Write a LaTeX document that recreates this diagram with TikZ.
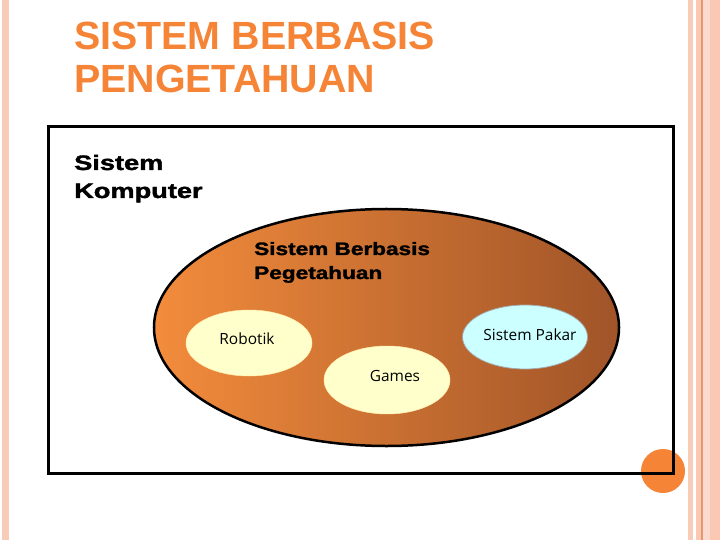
\documentclass[tikz,border=0pt]{standalone}
\usepackage{fontspec}
\setmainfont{Liberation Sans}
\newfontfamily\labfont{Open Sans}
\newfontfamily\heavyfont[FakeBold=1.6]{Liberation Sans Bold}
\usetikzlibrary{shapes.geometric}
\definecolor{orng}{RGB}{245,132,54}
\definecolor{stripeA}{RGB}{249,204,186}
\definecolor{stripeB}{RGB}{251,200,180}
\definecolor{stripeLine}{RGB}{232,150,110}
\definecolor{kbLeft}{RGB}{243,140,60}
\definecolor{kbRight}{RGB}{160,84,40}
\definecolor{paleYellow}{RGB}{255,255,204}
\definecolor{paleCyan}{RGB}{204,255,255}
\tikzset{
  txt/.style={anchor=base west, inner sep=0pt},
  titletext/.style={txt, text=orng, font=\bfseries\fontsize{39.5}{44}\selectfont},
  blacktext/.style={txt, font=\heavyfont\fontsize{21}{25}\selectfont},
  kbtext/.style={txt, font=\heavyfont\fontsize{18}{22}\selectfont},
  sub/.style={ellipse, inner sep=0pt, minimum width=126bp, minimum height=66bp},
  labtext/.style={anchor=base, inner sep=0pt, font=\labfont\fontsize{15.5}{18}\selectfont}
}
\begin{document}
\begin{tikzpicture}[x=1bp,y=-1bp]
\useasboundingbox (0,0) rectangle (720,540);
\fill[white] (0,0) rectangle (720,540);
% side stripes
\fill[stripeA] (2,0) rectangle (9,540);
\fill[stripeA] (688,0) rectangle (693,540);
\fill[stripeB] (696,0) rectangle (720,540);
\draw[stripeLine, line width=1.5bp] (702,0) -- (702,540);
\fill[stripeA!70!white] (703,0) rectangle (710,540);
% orange dot
\fill[orng] (663,471) circle (22);
% frame
\draw[line width=3bp] (48.5,126.5) rectangle (673.5,473.5);
% title
\node[titletext] (t1) at (74,50) {SISTEM BERBASIS};
\node[titletext] (t2) at (74,93) {PENGETAHUAN};
% computer system label
\node[blacktext] (sk1) at (74,170) {\scalebox{1.3}[1]{Sistem}};
\node[blacktext] (sk2) at (74,198) {\scalebox{1.3}[1]{Komputer}};
% knowledge based system ellipse
\node[ellipse, draw, line width=2.5bp, inner sep=0pt, minimum width=465bp, minimum height=237bp,
      left color=kbLeft, right color=kbRight] (kb) at (386.5,327.5) {};
\node[kbtext] (kb1) at (254,255) {\scalebox{1.26}[1]{Sistem Berbasis}};
\node[kbtext] (kb2) at (254,279) {\scalebox{1.26}[1]{Pegetahuan}};
% sub ellipses
\node[sub, fill=paleYellow, draw=paleYellow!85!orange, line width=0.5bp] (rob) at (249,343) {};
\node[sub, fill=paleYellow, draw=paleYellow!85!orange, line width=0.5bp, minimum height=68bp] (gam) at (387,380) {};
\node[sub, fill=paleCyan, draw=gray!70, line width=0.8bp, minimum width=125bp, minimum height=64bp] (sp) at (525,337) {};
\node[labtext] (robl) at (247,344) {Robotik};
\node[labtext] (gaml) at (395,381) {Games};
\node[labtext] (spl) at (530,340) {Sistem Pakar};
\end{tikzpicture}
\end{document}
